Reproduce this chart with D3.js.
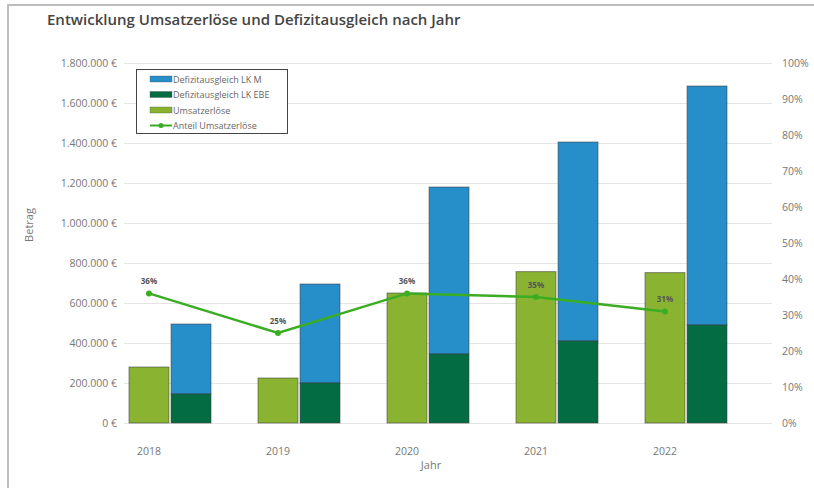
<!DOCTYPE html>
<html>
<head>
<meta charset="utf-8">
<script src="https://cdn.jsdelivr.net/npm/d3@7"></script>
<style>
  body { margin: 0; background: #fff; font-family: "Open Sans", sans-serif; }
  svg text { font-family: "Open Sans", sans-serif; }
</style>
</head>
<body>
<div id="chart"></div>
<script>
const years = ["2018", "2019", "2020", "2021", "2022"];
const umsatz = [280000, 225000, 650000, 757000, 752000];
const lkEbe = [145000, 200000, 345000, 410000, 490000];
const lkM = [350000, 495000, 835000, 995000, 1195000];
const anteil = [0.36, 0.25, 0.36, 0.35, 0.31];
const leftTicks = [0, 200000, 400000, 600000, 800000, 1000000, 1200000, 1400000, 1600000, 1800000];
const rightTicks = [0, 0.1, 0.2, 0.3, 0.4, 0.5, 0.6, 0.7, 0.8, 0.9, 1];
const legendItems = ["Defizitausgleich LK M", "Defizitausgleich LK EBE", "Umsatzerlöse", "Anteil Umsatzerlöse"];

const colors = {
    m: "#268fc9",
    ebe: "#046c42",
    umsatz: "#89b331",
    line: "#3aad22"
};

const width = 814, height = 488;
const margin = { left: 124, right: 45, top: 63, bottom: 65 };

const svg = d3.select("#chart").append("svg")
    .attr("width", width)
    .attr("height", height);

// frame
svg.append("path")
    .attr("d", `M8,${height} V5 H${width}`)
    .attr("fill", "none")
    .attr("stroke", "#bdbdbd")
    .attr("stroke-width", 2);

svg.append("text")
    .attr("x", 47).attr("y", 25)
    .attr("font-size", 15).attr("font-weight", 600)
    .attr("fill", "#444")
    .text("Entwicklung Umsatzerlöse und Defizitausgleich nach Jahr");

const x = d3.scaleBand().domain(years).range([margin.left, width - margin.right]);
const xs = d3.scaleBand().domain(["u", "d"]).range([5, 87]).paddingInner(0.05);
const y = d3.scaleLinear().domain([0, 1800000]).range([height - margin.bottom, margin.top]);
const y2 = d3.scaleLinear().domain([0, 1]).range([height - margin.bottom, margin.top]);

const fmt = d3.formatLocale({ decimal: ",", thousands: ".", grouping: [3], currency: ["", " €"] });
const euro = v => fmt.format(",.0f")(v) + " €";

// grid
svg.append("g").selectAll("line")
    .data(leftTicks)
    .join("line")
    .attr("x1", margin.left).attr("x2", width - margin.right + 3)
    .attr("y1", d => Math.round(y(d)) + 0.5).attr("y2", d => Math.round(y(d)) + 0.5)
    .attr("stroke", "#e4e4e4");

const leftAxis = svg.append("g")
    .attr("transform", `translate(${margin.left},0)`)
    .call(d3.axisLeft(y).tickValues(leftTicks).tickFormat(euro).tickSize(0).tickPadding(7));
leftAxis.select(".domain").remove();
leftAxis.selectAll("text").attr("font-size", 10.5).attr("fill", "#777");

const rightAxis = svg.append("g")
    .attr("transform", `translate(${width - margin.right + 3},0)`)
    .call(d3.axisRight(y2).tickValues(rightTicks).tickFormat(d3.format(".0%")).tickSize(0).tickPadding(10));
rightAxis.select(".domain").remove();
rightAxis.selectAll("text").attr("font-size", 10.5).attr("fill", "#777");

// x labels
const uCenter = d => x(d) + xs("u") + xs.bandwidth() / 2;
svg.append("g").selectAll("text")
    .data(years)
    .join("text")
    .attr("x", d => uCenter(d))
    .attr("y", height - margin.bottom + 32)
    .attr("text-anchor", "middle")
    .attr("font-size", 10.5).attr("fill", "#777")
    .text(d => d);

svg.append("text")
    .attr("x", 431).attr("y", 469)
    .attr("text-anchor", "middle")
    .attr("font-size", 11).attr("fill", "#777")
    .text("Jahr");

svg.append("text")
    .attr("transform", "translate(33,225) rotate(-90)")
    .attr("text-anchor", "middle")
    .attr("font-size", 11).attr("fill", "#777")
    .text("Betrag");

// bars
const rows = years.map((yr, i) => ({ yr, u: umsatz[i], e: lkEbe[i], m: lkM[i], p: anteil[i] }));
const bars = svg.append("g");
const barStroke = "rgba(60,60,60,0.55)";

bars.selectAll(".u")
    .data(rows).join("rect")
    .attr("class", "u")
    .attr("x", d => x(d.yr) + xs("u"))
    .attr("width", xs.bandwidth())
    .attr("y", d => y(d.u))
    .attr("height", d => y(0) - y(d.u))
    .attr("fill", colors.umsatz)
    .attr("stroke", barStroke).attr("stroke-width", 1);

bars.selectAll(".m")
    .data(rows).join("rect")
    .attr("class", "m")
    .attr("x", d => x(d.yr) + xs("d"))
    .attr("width", xs.bandwidth())
    .attr("y", d => y(d.e + d.m))
    .attr("height", d => y(d.e) - y(d.e + d.m))
    .attr("fill", colors.m)
    .attr("stroke", barStroke).attr("stroke-width", 1);

bars.selectAll(".e")
    .data(rows).join("rect")
    .attr("class", "e")
    .attr("x", d => x(d.yr) + xs("d"))
    .attr("width", xs.bandwidth())
    .attr("y", d => y(d.e))
    .attr("height", d => y(0) - y(d.e))
    .attr("fill", colors.ebe)
    .attr("stroke", barStroke).attr("stroke-width", 1);

// line
const line = d3.line().x(d => uCenter(d.yr)).y(d => y2(d.p));
svg.append("path")
    .datum(rows)
    .attr("d", line)
    .attr("fill", "none")
    .attr("stroke", colors.line)
    .attr("stroke-width", 2.5);

svg.append("g").selectAll("circle")
    .data(rows).join("circle")
    .attr("cx", d => uCenter(d.yr))
    .attr("cy", d => y2(d.p))
    .attr("r", 3)
    .attr("fill", colors.line);

svg.append("g").selectAll("text")
    .data(rows).join("text")
    .attr("x", d => uCenter(d.yr))
    .attr("y", d => y2(d.p) - 9)
    .attr("text-anchor", "middle")
    .attr("font-size", 8).attr("font-weight", 700)
    .attr("fill", "#555")
    .text(d => d3.format(".0%")(d.p));

// legend
const lg = svg.append("g").attr("transform", "translate(136,69)");
lg.append("rect")
    .attr("x", 0.5).attr("y", 0.5)
    .attr("width", 151).attr("height", 64)
    .attr("fill", "#fff")
    .attr("stroke", "#444").attr("stroke-width", 1);

const swatch = [colors.m, colors.ebe, colors.umsatz];
legendItems.forEach((name, i) => {
    const yy = 10 + i * 15.5;
    if (i < 3) {
        lg.append("rect")
            .attr("x", 14).attr("y", yy - 3)
            .attr("width", 22).attr("height", 6)
            .attr("fill", swatch[i])
            .attr("stroke", "rgba(60,60,60,0.5)").attr("stroke-width", 0.6);
    } else {
        lg.append("line")
            .attr("x1", 14).attr("x2", 36)
            .attr("y1", yy).attr("y2", yy)
            .attr("stroke", colors.line).attr("stroke-width", 2);
        lg.append("circle")
            .attr("cx", 25).attr("cy", yy).attr("r", 2.5)
            .attr("fill", colors.line);
    }
    lg.append("text")
        .attr("x", 37).attr("y", yy + 3.5)
        .attr("font-size", 9).attr("fill", "#666")
        .text(name);
});
</script>
</body>
</html>
